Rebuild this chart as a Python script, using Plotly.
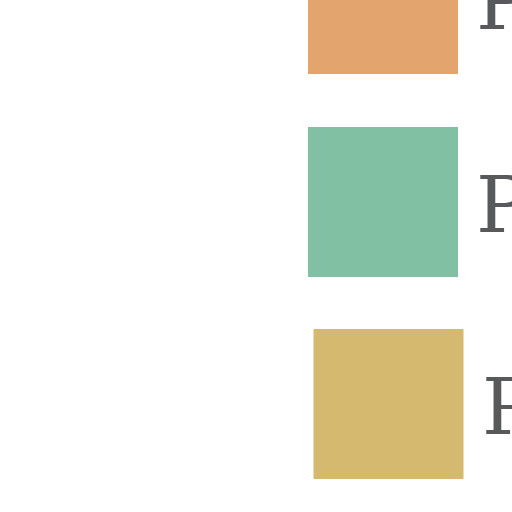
import plotly.graph_objects as go

# Legend entries (cropped view of a large legend)
labels = ["P", "P", "P"]
colors = ["#E4A46E", "#82C0A3", "#D5B96E"]
swatch_x = [383, 383, 388.5]
swatch_y = [-1, 202, 404]
label_x = [476, 476, 482]
label_y = [9, 212, 414]

fig = go.Figure()
fig.add_trace(go.Scatter(
    x=swatch_x, y=swatch_y, mode="markers",
    marker=dict(symbol="square", size=150, color=colors, line=dict(width=0)),
    hoverinfo="skip", showlegend=False, cliponaxis=True,
))
fig.add_trace(go.Scatter(
    x=label_x, y=label_y, mode="text", text=labels,
    textposition="middle right",
    textfont=dict(family="DejaVu Serif", size=78, color="#58595B"),
    hoverinfo="skip", showlegend=False, cliponaxis=True,
))
fig.update_layout(
    width=512, height=512,
    margin=dict(l=0, r=0, t=0, b=0),
    paper_bgcolor="white", plot_bgcolor="white",
    xaxis=dict(range=[0, 512], visible=False, fixedrange=True),
    yaxis=dict(range=[512, 0], visible=False, fixedrange=True),
)
fig.write_html("out.html", config={"displayModeBar": False},
               post_script="document.body.style.margin='0';")
